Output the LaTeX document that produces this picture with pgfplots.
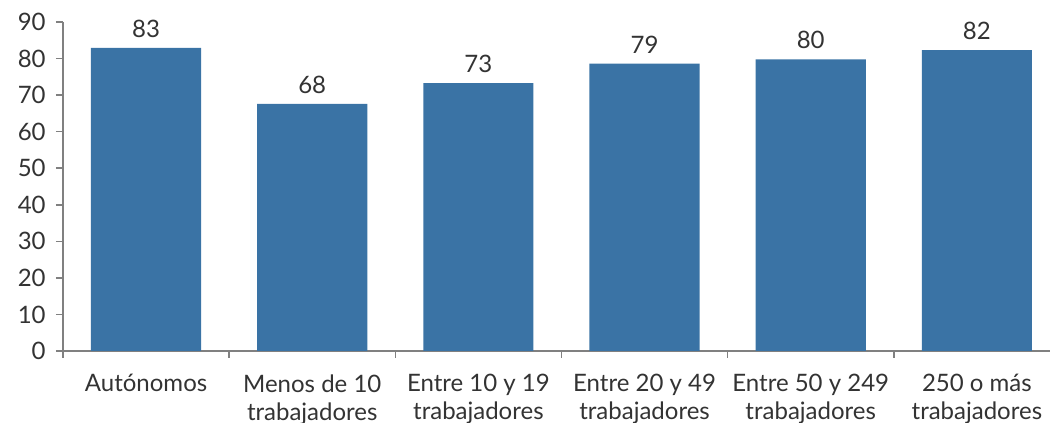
\documentclass[border=0pt]{standalone}
\usepackage{pgfplots}
\pgfplotsset{compat=1.18}
\usepackage{fontspec}
\setmainfont{Lato}
\definecolor{barblue}{HTML}{3A73A5}
\definecolor{axgray}{HTML}{808080}
\definecolor{txt}{HTML}{333333}
\begin{document}
\fontsize{12}{14}\selectfont
\begin{tikzpicture}
\begin{axis}[
  scale only axis, width=493.5pt, height=164.5pt,
  xmin=-0.5, xmax=5.44, ymin=0, ymax=90,
  ybar, bar width=0.663, bar shift=0pt,
  axis x line*=bottom, axis y line*=left,
  axis line style={axgray, line width=0.8pt},
  tick align=outside,
  major tick length=3.5pt, minor tick length=3.5pt,
  tick style={axgray, line width=0.8pt},
  major x tick style={draw=none},
  xtick={0,1,2,3,4,5},
  minor xtick={-0.5,0.5,1.5,2.5,3.5,4.5},
  xticklabels={Autónomos, Menos de 10\\trabajadores, Entre 10 y 19\\trabajadores, Entre 20 y 49\\trabajadores, Entre 50 y 249\\trabajadores, 250 o más\\trabajadores},
  xticklabel style={align=center, text=txt, font=\fontsize{12}{14}\selectfont, yshift=-4pt},
  ytick={0,10,...,90},
  yticklabel style={text=txt, font=\fontsize{12}{14}\selectfont, xshift=-1pt},
  /pgf/number format/assume math mode=true,
  nodes near coords,
  nodes near coords style={text=txt, font=\fontsize{12}{14}\selectfont, /pgf/number format/fixed, /pgf/number format/precision=0, yshift=1pt},
  clip=false,
]
\addplot[fill=barblue, draw=none] coordinates {(0,82.9) (1,67.6) (2,73.3) (3,78.6) (4,79.8) (5,82.3)};
\end{axis}
\pgfresetboundingbox
\path[use as bounding box] ([xshift=-31.5pt,yshift=-36pt]current axis.south west) rectangle ([yshift=11pt]current axis.north east);
\end{tikzpicture}
\end{document}
